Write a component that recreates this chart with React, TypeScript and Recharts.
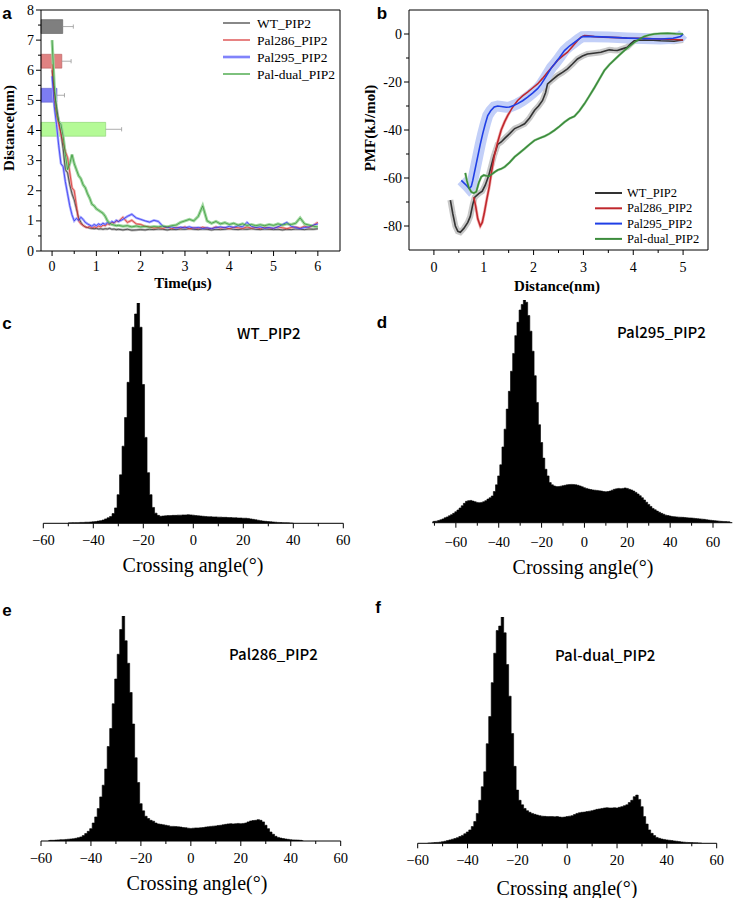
import React from 'react';
import { LineChart, ComposedChart, AreaChart, Area, Line, XAxis, YAxis, ReferenceArea, ReferenceLine } from 'recharts';

const SERIF = '"Liberation Serif", "Times New Roman", serif';
const ARIAL = '"Liberation Sans", Arial, sans-serif';
const CJK = '"Noto Sans CJK SC", "Noto Sans", sans-serif';

// ---------- Panel a: distance vs time ----------
const TIME = [0, 0.05, 0.1, 0.15, 0.2, 0.25, 0.3, 0.35, 0.4, 0.45, 0.5, 0.55, 0.6, 0.65, 0.7, 0.75, 0.8, 0.85, 0.9, 0.95,
  1.0, 1.05, 1.1, 1.15, 1.2, 1.25, 1.3, 1.35, 1.4, 1.45, 1.5,
  1.6, 1.7, 1.8, 1.9, 2.0, 2.1, 2.2, 2.3, 2.4, 2.5, 2.6, 2.7, 2.8, 2.9, 3.0, 3.1, 3.2, 3.3, 3.4, 3.5, 3.6, 3.7, 3.8, 3.9,
  4.0, 4.1, 4.2, 4.3, 4.4, 4.5, 4.6, 4.7, 4.8, 4.9, 5.0, 5.1, 5.2, 5.3, 5.4, 5.5, 5.6, 5.7, 5.8, 5.9, 6.0];
const WT_DIST = [6.0, 5.3, 4.8, 4.3, 3.9, 3.4, 2.7, 2.6, 2.2, 1.9, 1.7, 1.4, 1.1, 0.95, 0.85, 0.8, 0.78, 0.76, 0.75, 0.74,
  0.75, 0.73, 0.74, 0.72, 0.74, 0.73, 0.75, 0.72, 0.73, 0.71, 0.72,
  0.70, 0.72, 0.69, 0.70, 0.71, 0.70, 0.72, 0.71, 0.73, 0.72, 0.70, 0.72, 0.71, 0.73, 0.72, 0.74, 0.72, 0.71, 0.73, 0.72, 0.70, 0.72, 0.71, 0.72,
  0.74, 0.72, 0.71, 0.73, 0.72, 0.74, 0.72, 0.71, 0.73, 0.72, 0.71, 0.72, 0.70, 0.72, 0.71, 0.73, 0.72, 0.71, 0.73, 0.72, 0.74];
const P286_DIST = [6.2, 5.0, 4.5, 4.2, 3.9, 3.6, 3.3, 3.1, 2.6, 2.1, 2.0, 1.5, 1.0, 0.9, 0.85, 0.8, 0.78, 0.82, 0.76, 0.8,
  0.78, 0.83, 0.8, 0.86, 0.84, 0.9, 0.88, 0.95, 0.92, 1.0, 0.98,
  1.12, 0.95, 1.02, 0.9, 0.88, 0.82, 0.80, 0.76, 0.78, 0.75, 0.8, 0.74, 0.78, 0.76, 0.8, 0.74, 0.77, 0.75, 0.79, 0.76, 0.74, 0.8, 0.76, 0.78,
  0.74, 0.79, 0.77, 0.75, 0.8, 0.76, 0.78, 0.74, 0.79, 0.76, 0.75, 0.8, 0.77, 0.74, 0.78, 0.8, 0.76, 0.82, 0.78, 0.85, 0.95];
const P295_DIST = [5.8, 4.8, 4.2, 3.5, 2.9, 2.8, 2.3, 1.9, 1.5, 1.2, 1.0, 1.08, 1.02, 1.12, 1.05, 0.95, 0.9, 0.86, 0.82, 0.88,
  0.84, 0.9, 0.86, 0.92, 0.88, 0.95, 0.9, 0.98, 0.94, 1.02, 0.98,
  1.05, 1.15, 1.22, 1.1, 1.05, 1.0, 0.96, 1.02, 0.98, 0.82, 0.78, 0.8, 0.76, 0.79, 0.77, 0.8, 0.76, 0.78, 0.75, 0.77, 0.74, 0.78, 0.8, 0.77,
  0.82, 0.78, 0.84, 0.8, 0.95, 0.82, 0.78, 0.8, 0.76, 0.78, 0.75, 0.8, 0.88, 0.95, 0.82, 0.78, 0.74, 0.78, 0.8, 0.86, 0.9];
const PDUAL_DIST = [7.0, 5.5, 4.6, 4.3, 4.2, 3.8, 3.2, 2.7, 2.9, 3.2, 2.9, 2.7, 2.5, 2.4, 2.2, 2.1, 1.9, 1.75, 1.55, 1.5,
  1.4, 1.35, 1.3, 1.25, 1.15, 1.0, 0.92, 0.88, 0.86, 0.84, 0.85,
  0.82, 0.84, 0.8, 0.83, 0.8, 0.82, 0.79, 0.81, 0.8, 0.83, 0.8, 0.84, 0.86, 0.95, 1.0, 1.05, 1.0, 1.15, 1.5, 1.0, 0.92, 0.98, 0.9, 0.94,
  0.88, 0.92, 0.86, 0.9, 0.85, 0.88, 0.84, 0.87, 0.84, 0.88, 0.85, 0.9, 0.86, 0.9, 0.88, 0.92, 1.1, 0.9, 0.86, 0.82, 0.8];
const SERIES_NAMES = ['WT_PIP2', 'Pal286_PIP2', 'Pal295_PIP2', 'Pal-dual_PIP2'];
const BIND_Y = [7.45, 6.3, 5.17, 4.04];
const BIND_TIME = [0.24, 0.22, 0.11, 1.21];
const BIND_ERR = [0.24, 0.21, 0.17, 0.36];
const A_MAJOR_X = [0, 1, 2, 3, 4, 5, 6];
const A_MINOR_X = [0.5, 1.5, 2.5, 3.5, 4.5, 5.5];
const A_MAJOR_Y = [0, 1, 2, 3, 4, 5, 6, 7, 8];
const A_MINOR_Y = [0.5, 1.5, 2.5, 3.5, 4.5, 5.5, 6.5, 7.5];

// ---------- Panel b: PMF ----------
const WT_PMF: [number, number][] = [[0.33, -69.2], [0.38, -75], [0.43, -80], [0.48, -82.2], [0.53, -82.6], [0.6, -81], [0.68, -78.5], [0.73, -76], [0.78, -71], [0.82, -68], [0.9, -66.5], [0.97, -65.5], [1.03, -63], [1.1, -59], [1.15, -55], [1.2, -51], [1.28, -46], [1.35, -45], [1.42, -43.5], [1.52, -41.5], [1.62, -39.4], [1.72, -38.5], [1.82, -37.4], [1.92, -35], [2.02, -31.8], [2.1, -30], [2.18, -27.7], [2.24, -24.5], [2.28, -20.8], [2.38, -19], [2.48, -17.3], [2.58, -16], [2.68, -14.5], [2.78, -12.5], [2.88, -10.4], [2.98, -9.2], [3.08, -8.3], [3.2, -8.0], [3.35, -7.6], [3.45, -7.0], [3.52, -6.6], [3.6, -6.8], [3.68, -6.9], [3.78, -6.2], [3.88, -5.5], [3.95, -4.0], [4.02, -2.8], [4.12, -2.6], [4.22, -2.5], [4.4, -2.6], [4.55, -2.8], [4.7, -2.9], [4.82, -3.0], [4.92, -2.7], [5.0, -2.5]];
const P286_PMF: [number, number][] = [[0.8, -68], [0.84, -72], [0.88, -77], [0.93, -80], [0.97, -78.5], [1.01, -74.7], [1.06, -69], [1.11, -63.7], [1.16, -57], [1.21, -51], [1.28, -45], [1.35, -40], [1.42, -36.5], [1.48, -34], [1.58, -30.5], [1.68, -27.7], [1.78, -25.8], [1.88, -24.2], [1.98, -22.5], [2.08, -20.8], [2.18, -18.5], [2.28, -15.9], [2.38, -13.5], [2.48, -11], [2.58, -9.2], [2.68, -7.6], [2.78, -5.2], [2.88, -2.8], [2.95, -1.3], [3.02, -0.7], [3.1, -0.8], [3.22, -1.1], [3.4, -1.3], [3.55, -1.4], [3.7, -1.5], [3.88, -1.7], [4.05, -1.8], [4.22, -1.8], [4.4, -2.0], [4.55, -2.1], [4.7, -2.2], [4.85, -2.3], [5.0, -2.5]];
const P295_PMF: [number, number][] = [[0.55, -61], [0.6, -62], [0.65, -63], [0.71, -64.4], [0.75, -63.5], [0.78, -61], [0.83, -56], [0.88, -51], [0.93, -46], [0.98, -41.5], [1.03, -37.5], [1.08, -34], [1.14, -32], [1.21, -30.4], [1.28, -30], [1.35, -30.2], [1.45, -30.5], [1.52, -30.4], [1.6, -29.8], [1.68, -29], [1.78, -27.8], [1.88, -26.3], [1.98, -24.6], [2.08, -22.8], [2.15, -21], [2.22, -18.7], [2.3, -16], [2.36, -14], [2.42, -12.5], [2.52, -9.8], [2.62, -6.9], [2.72, -5.0], [2.82, -3.5], [2.9, -2.2], [2.98, -1.1], [3.1, -1.0], [3.22, -1.1], [3.5, -1.3], [3.88, -1.7], [4.2, -1.9], [4.55, -2.1], [4.8, -1.8], [4.95, -1.1], [5.0, 0]];
const PDUAL_PMF: [number, number][] = [[0.63, -57.9], [0.66, -61], [0.7, -64], [0.75, -65.8], [0.8, -66.3], [0.85, -65.7], [0.9, -62], [0.95, -59.5], [1.0, -58.8], [1.05, -59.1], [1.1, -59.3], [1.15, -58.6], [1.22, -57.5], [1.28, -56.7], [1.35, -56.2], [1.42, -55.4], [1.52, -53.5], [1.62, -51.2], [1.72, -49.5], [1.82, -47.8], [1.92, -46], [2.02, -44.3], [2.12, -43.4], [2.22, -42.6], [2.32, -41.5], [2.42, -40.1], [2.52, -38.5], [2.62, -36.7], [2.72, -35.2], [2.82, -34.3], [2.92, -32], [3.02, -29.1], [3.12, -25.8], [3.22, -22.4], [3.32, -18.8], [3.42, -15.2], [3.52, -12.8], [3.62, -10.8], [3.72, -8.8], [3.82, -6.9], [3.92, -5.2], [4.02, -3.5], [4.12, -2.2], [4.22, -1.0], [4.32, -0.4], [4.42, 0], [4.55, 0.2], [4.69, 0.3], [4.85, 0.1], [5.0, 0]];
const B_MAJOR_X = [0, 1, 2, 3, 4, 5];
const B_MINOR_X = [0.5, 1.5, 2.5, 3.5, 4.5];
const B_MAJOR_Y = [-80, -60, -40, -20, 0];
const B_MINOR_Y = [-70, -50, -30, -10];

// ---------- Panels c-f: crossing-angle histograms (1° bins, % of peak) ----------
const WT_START = -50;
const WT_HIST = [0.2, 0.2, 0.3, 0.3, 0.3, 0.4, 0.4, 0.5, 0.5, 0.6, 0.7, 0.8, 1.0, 1.2, 1.5, 2.0, 2.5, 3.1, 4.4, 7.0,
  13, 22, 35, 48, 64, 78, 89, 95, 100, 89, 63, 39, 23, 13, 7.2, 4.6, 3.6, 3.2, 3.3, 3.4,
  3.5, 3.5, 3.6, 3.6, 3.7, 3.7, 3.8, 3.8, 3.9, 3.8, 3.7, 3.5, 3.4, 3.3, 3.2, 3.1, 3.0, 3.0, 2.9, 2.9,
  2.8, 2.8, 2.7, 2.7, 2.6, 2.6, 2.5, 2.5, 2.4, 2.4, 2.3, 2.3, 2.2, 2.0, 1.8, 1.6, 1.4, 1.2, 1.0, 0.9,
  0.8, 0.7, 0.6, 0.5, 0.4, 0.35, 0.3, 0.25, 0.2, 0.15, 0.1];
const P295_START = -71;
const P295_HIST = [0.4, 0.6, 0.7, 1.0, 1.3, 1.7, 2.2, 2.6, 3.1, 3.6, 4.2, 4.9, 5.7, 6.6, 7.6, 8.7, 9.6, 9.9, 10.0, 9.7,
  9.4, 9.1, 9.0, 9.1, 9.4, 9.9, 10.6, 11.2, 12.0, 14.0, 17.0, 21, 26, 34, 42, 51, 59, 68, 76, 84,
  90, 95.5, 98, 100, 99, 93, 86, 77, 66, 54, 44, 36, 29, 24, 21, 18, 17, 16.5, 16.2, 16.2,
  16.4, 16.6, 16.8, 17.0, 17.1, 17.2, 17.1, 17.0, 16.8, 16.5, 16.1, 15.7, 15.4, 15.1, 14.9, 14.7, 14.6, 14.5, 14.3, 14.2,
  14.0, 13.9, 14.0, 14.2, 14.6, 15.0, 15.2, 15.4, 15.3, 15.4, 15.6, 15.4, 15.0, 14.7, 14.2, 13.6, 12.9, 12.1, 11.2, 10.2,
  9.2, 8.2, 7.3, 6.4, 5.8, 5.2, 4.7, 4.2, 3.8, 3.4, 3.2, 3.0, 2.8, 2.7, 2.6, 2.5, 2.45, 2.4, 2.3, 2.2,
  2.15, 2.1, 2.0, 1.9, 1.8, 1.7, 1.6, 1.5, 1.35, 1.2, 1.1, 1.0, 0.9, 0.8, 0.7, 0.6, 0.55, 0.5, 0.45, 0.4];
const P286_START = -57;
const P286_HIST = [0.2, 0.3, 0.3, 0.4, 0.5, 0.6, 0.6, 0.7, 0.8, 0.9, 1.0, 1.2, 1.5, 1.8, 2.4, 3.3, 4.3, 5.5, 8, 10.7,
  14.4, 19.6, 24.8, 32, 42, 50, 61, 72, 83, 94, 100, 89, 79, 66, 52, 37, 26, 16.6, 13.4, 11,
  10, 9.2, 8.8, 8.0, 7.6, 7.4, 7.2, 7.0, 6.8, 6.5, 6.5, 6.4, 6.3, 6.2, 6.0, 5.9, 5.7, 5.6, 5.7, 5.8,
  5.8, 5.9, 6.0, 6.2, 6.3, 6.5, 6.6, 6.7, 6.9, 7.0, 7.2, 7.4, 7.6, 7.7, 7.6, 7.7, 7.8, 7.7, 7.8, 8.0,
  8.5, 8.9, 9.1, 9.2, 9.5, 9.2, 8.5, 7.0, 5.5, 4.0, 3.0, 2.1, 1.6, 1.3, 1.1, 0.9, 0.75, 0.6, 0.5, 0.45,
  0.4, 0.3, 0.15];
const PDUAL_START = -56;
const PDUAL_HIST = [0.1, 0.15, 0.2, 0.3, 0.4, 0.5, 0.7, 0.9, 1.2, 1.5, 1.8, 2.1, 2.5, 3.0, 3.5, 4.2, 5.0, 5.9, 7.4, 9.6,
  13.2, 19, 25, 31.6, 44, 56, 71, 84, 94, 96, 100, 93, 79, 65, 48.5, 34, 23.5, 19, 17, 15.4,
  14.4, 13.7, 13.2, 12.8, 12.5, 12.2, 12.0, 11.9, 11.8, 11.8, 11.8, 11.7, 11.8, 11.6, 11.5, 11.6, 11.8, 12.0, 12.2, 12.7,
  13.2, 13.5, 13.7, 13.8, 14.0, 14.2, 14.4, 14.7, 15.0, 15.2, 15.4, 15.6, 15.7, 15.6, 15.6, 15.7, 15.6, 15.9, 16.2, 16.6,
  17.0, 18.0, 19.0, 20.6, 21.3, 19.4, 16.2, 11.8, 8.5, 5.9, 4.4, 3.4, 2.6, 2.2, 1.9, 1.7, 1.5, 1.35, 1.2, 1.05,
  0.9, 0.75, 0.6, 0.5, 0.4, 0.35, 0.3, 0.25, 0.2, 0.15, 0.1];
const H_MAJOR = [-60, -40, -20, 0, 20, 40, 60];
const H_MINOR = [-70, -50, -30, -10, 10, 30, 50];

// ---------- colours ----------
const A_LINE = ['#2b2b2b', '#d42a2a', '#2626f0', '#2f8f2f'];
const A_BAND = ['#b0b0b0', '#f0a8a8', '#a8acff', '#9fd89f'];
const BAR_FILL = ['#7f7f7f', '#e08282', '#7d7df2', '#b4fa96'];
const BAR_STROKE = ['#5a5a5a', '#b85a5a', '#5a5ad0', '#88d070'];
const B_LINE = ['#333333', '#c0282d', '#1f3fe6', '#3c8c3c'];
const B_BAND = ['#c8c8c8', '#f2b4b4', '#c2cff8', '#a8d4a8'];
const B_BAND_W = [6, 3, 11, 2.5];

// ---------- tick renderers ----------
function bottomTick(majors: number[], major: number, minor: number, dy: number, fontSize: number, fmt: (v: number) => string) {
  return (props: any) => {
    const { x, y, payload } = props;
    const v = payload.value;
    const isMajor = majors.indexOf(v) >= 0;
    return (
      <g>
        <line x1={x} x2={x} y1={y} y2={y + (isMajor ? major : minor)} stroke="#000" strokeWidth={1} />
        {isMajor && (
          <text x={x} y={y + dy} textAnchor="middle" dominantBaseline="central" fontSize={fontSize} fontFamily={SERIF} fill="#000">
            {fmt(v)}
          </text>
        )}
      </g>
    );
  };
}
function leftTick(majors: number[], major: number, minor: number, gap: number, fontSize: number) {
  return (props: any) => {
    const { x, y, payload } = props;
    const v = payload.value;
    const isMajor = majors.indexOf(v) >= 0;
    return (
      <g>
        <line x1={x - (isMajor ? major : minor)} x2={x} y1={y} y2={y} stroke="#000" strokeWidth={1} />
        {isMajor && (
          <text x={x - gap} y={y} textAnchor="end" dominantBaseline="central" fontSize={fontSize} fontFamily={SERIF} fill="#000">
            {String(v)}
          </text>
        )}
      </g>
    );
  };
}
const uMinus = (v: number) => (v < 0 ? '\u2212' + Math.abs(v) : String(v));

// ---------- legends (drawn as overlays so they do not shrink the plots) ----------
function LegendA() {
  return (
    <svg width={130} height={76} style={{ position: 'absolute', left: 223, top: 14 }}>
      {SERIES_NAMES.map((n, i) => (
        <g key={n}>
          <line x1={0} x2={27} y1={9 + i * 17} y2={9 + i * 17} stroke={A_BAND[i]} strokeWidth={i === 2 ? 3 : 2} />
          <line x1={0} x2={27} y1={9 + i * 17} y2={9 + i * 17} stroke={A_LINE[i]} strokeWidth={0.6} />
          <text x={34} y={9 + i * 17} dominantBaseline="central" fontSize={13.5} fontFamily={SERIF} fill="#000">{n}</text>
        </g>
      ))}
    </svg>
  );
}
function LegendB() {
  return (
    <svg width={120} height={66} style={{ position: 'absolute', left: 595, top: 185 }}>
      {SERIES_NAMES.map((n, i) => (
        <g key={n}>
          <line x1={0} x2={27} y1={8 + i * 15.3} y2={8 + i * 15.3} stroke={B_LINE[i]} strokeWidth={2} />
          <text x={32} y={8 + i * 15.3} dominantBaseline="central" fontSize={12.5} fontFamily={SERIF} fill="#000">{n}</text>
        </g>
      ))}
    </svg>
  );
}

// ---------- histogram panel ----------
type HistProps = {
  left: number; top: number; width: number; height: number;
  margin: { top: number; right: number; left: number; bottom: number };
  axisH: number; domain: [number, number]; start: number; counts: number[]; labelDy: number;
};
function Hist(p: HistProps) {
  const data = p.counts.map((c, i) => ({ a: p.start + i, v: c }));
  const ticks = [...H_MAJOR, ...H_MINOR].filter((t) => t >= p.domain[0] && t <= p.domain[1]).sort((a, b) => a - b);
  return (
    <div style={{ position: 'absolute', left: p.left, top: p.top }}>
      <AreaChart width={p.width} height={p.height} data={data} margin={p.margin}>
        <XAxis dataKey="a" type="number" domain={p.domain} allowDataOverflow ticks={ticks} interval={0} height={p.axisH}
          tickSize={0} tickMargin={0} tickLine={false} axisLine={{ stroke: '#000', strokeWidth: 1 }}
          tick={bottomTick(H_MAJOR, 5, 3, p.labelDy, 14.5, uMinus)} />
        <YAxis hide domain={[0, 100]} allowDataOverflow />
        <Area type="step" dataKey="v" fill="#000" fillOpacity={1} stroke="#000" strokeWidth={0.6} isAnimationActive={false} />
      </AreaChart>
    </div>
  );
}

const txt = (x: number, y: number, s: string, style: React.CSSProperties, anchor: 'c' | 'l' = 'c', rot = false) => (
  <div key={s + x + y} style={{
    position: 'absolute', left: x, top: y, whiteSpace: 'nowrap', lineHeight: 1,
    transform: (anchor === 'c' ? 'translate(-50%,-50%)' : 'translate(0,-50%)') + (rot ? ' rotate(-90deg)' : ''),
    ...style,
  }}>{s}</div>
);

export default function App() {
  const distData = TIME.map((t, i) => ({ t, wt: WT_DIST[i], p286: P286_DIST[i], p295: P295_DIST[i], pdual: PDUAL_DIST[i] }));
  const distKeys = ['wt', 'p286', 'p295', 'pdual'];
  const pmf = [WT_PMF, P286_PMF, P295_PMF, PDUAL_PMF].map((s) => s.map(([x, y]) => ({ x, y })));

  const boldSerif: React.CSSProperties = { fontFamily: SERIF, fontWeight: 700, fontSize: 15 };
  const letter: React.CSSProperties = { fontFamily: ARIAL, fontWeight: 700, fontSize: 17 };
  const title: React.CSSProperties = { fontFamily: CJK, fontWeight: 500, fontSize: 15 };
  const xTitle: React.CSSProperties = { fontFamily: SERIF, fontSize: 20 };

  return (
    <div style={{ position: 'absolute', left: 0, top: 0, width: 733, height: 898, background: '#fff', overflow: 'hidden' }}>
      {/* Panel a */}
      <div style={{ position: 'absolute', left: 0, top: 0 }}>
        <LineChart width={360} height={295} data={distData} margin={{ top: 10, right: 20, bottom: 0, left: 0 }}>
          <XAxis dataKey="t" type="number" domain={[-0.25, 6.5]} allowDataOverflow ticks={[...A_MAJOR_X, ...A_MINOR_X].sort((a, b) => a - b)}
            interval={0} height={44} tickSize={0} tickMargin={0} tickLine={false} axisLine={{ stroke: '#000' }}
            tick={bottomTick(A_MAJOR_X, 5, 3, 15, 14, (v) => String(v))} />
          <YAxis type="number" domain={[0, 8]} allowDataOverflow ticks={[...A_MAJOR_Y, ...A_MINOR_Y].sort((a, b) => a - b)}
            interval={0} width={41} tickSize={0} tickMargin={0} tickLine={false} axisLine={{ stroke: '#000' }}
            tick={leftTick(A_MAJOR_Y, 5, 3, 7, 14)} />
          <ReferenceLine y={8} stroke="#000" strokeWidth={1} />
          <ReferenceLine x={6.5} stroke="#000" strokeWidth={1} />
          {BIND_Y.map((y, i) => (
            <ReferenceArea key={'ba' + i} x1={-0.25} x2={BIND_TIME[i]} y1={y - 0.23} y2={y + 0.23}
              fill={BAR_FILL[i]} fillOpacity={1} stroke={BAR_STROKE[i]} strokeWidth={0.6} />
          ))}
          {BIND_Y.map((y, i) => (
            <ReferenceLine key={'be' + i} segment={[{ x: BIND_TIME[i], y }, { x: BIND_TIME[i] + BIND_ERR[i], y }]} stroke="#999" strokeWidth={0.8} />
          ))}
          {BIND_Y.map((y, i) => (
            <ReferenceLine key={'bc' + i} segment={[{ x: BIND_TIME[i] + BIND_ERR[i], y: y - 0.07 }, { x: BIND_TIME[i] + BIND_ERR[i], y: y + 0.07 }]} stroke="#999" strokeWidth={0.8} />
          ))}
          {distKeys.map((k, i) => (
            <Line key={k + 'band'} dataKey={k} stroke={A_BAND[i]} strokeWidth={i === 3 ? 3 : 2.5} dot={false} isAnimationActive={false} legendType="none" />
          ))}
          {distKeys.map((k, i) => (
            <Line key={k} dataKey={k} name={SERIES_NAMES[i]} stroke={A_LINE[i]} strokeWidth={0.7} dot={false} isAnimationActive={false} />
          ))}
        </LineChart>
      </div>
      <LegendA />

      {/* Panel b */}
      <div style={{ position: 'absolute', left: 360, top: 0 }}>
        <ComposedChart width={373} height={300} margin={{ top: 10, right: 25, bottom: 0, left: 0 }}>
          <XAxis dataKey="x" type="number" domain={[-0.5, 5.5]} allowDataOverflow ticks={[...B_MAJOR_X, ...B_MINOR_X].sort((a, b) => a - b)}
            interval={0} height={50} tickSize={0} tickMargin={0} tickLine={false} axisLine={{ stroke: '#000' }}
            tick={bottomTick(B_MAJOR_X, 5, 3, 17, 14, (v) => String(v))} />
          <YAxis type="number" domain={[-90, 10]} allowDataOverflow ticks={[...B_MAJOR_Y, ...B_MINOR_Y].sort((a, b) => a - b)}
            interval={0} width={49} tickSize={0} tickMargin={0} tickLine={false} axisLine={{ stroke: '#000' }}
            tick={leftTick(B_MAJOR_Y, 5, 3, 7, 14)} />
          <ReferenceLine y={10} stroke="#000" strokeWidth={1} />
          <ReferenceLine x={5.5} stroke="#000" strokeWidth={1} />
          {pmf.map((d, i) => (
            <Line key={'pb' + i} data={d} dataKey="y" stroke={B_BAND[i]} strokeWidth={B_BAND_W[i]} dot={false} isAnimationActive={false} legendType="none" />
          ))}
          {pmf.map((d, i) => (
            <Line key={'pl' + i} data={d} dataKey="y" name={SERIES_NAMES[i]} stroke={B_LINE[i]} strokeWidth={1.6} dot={false} isAnimationActive={false} />
          ))}
        </ComposedChart>
      </div>
      <LegendB />

      {/* Histograms */}
      <Hist left={0} top={295} width={360} height={300} margin={{ top: 8, right: 16.7, left: 43.3, bottom: 0 }}
        axisH={71.7} domain={[-60, 60]} start={WT_START} counts={WT_HIST} labelDy={17} />
      <Hist left={370} top={295} width={363} height={300} margin={{ top: 5, right: 0.7, left: 62.3, bottom: 0 }}
        axisH={72.3} domain={[-71, 69]} start={P295_START} counts={P295_HIST} labelDy={19} />
      <Hist left={0} top={600} width={360} height={298} margin={{ top: 16, right: 19.3, left: 41, bottom: 0 }}
        axisH={57} domain={[-60, 60]} start={P286_START} counts={P286_HIST} labelDy={17} />
      <Hist left={370} top={600} width={363} height={298} margin={{ top: 17, right: 16.3, left: 47.7, bottom: 0 }}
        axisH={54.7} domain={[-60, 60]} start={PDUAL_START} counts={PDUAL_HIST} labelDy={17} />

      {/* Texts */}
      {txt(7, 13, 'a', letter)}
      {txt(382, 13, 'b', letter)}
      {txt(7, 323, 'c', letter)}
      {txt(382, 322, 'd', letter)}
      {txt(7, 610, 'e', letter)}
      {txt(378, 607, 'f', letter)}
      {txt(9, 128, 'Distance(nm)', boldSerif, 'c', true)}
      {txt(183, 283, 'Time(\u03bcs)', boldSerif)}
      {txt(370, 128, 'PMF(kJ/mol)', boldSerif, 'c', true)}
      {txt(557, 286, 'Distance(nm)', boldSerif)}
      {txt(237, 332, 'WT_PIP2', title, 'l')}
      {txt(617, 331, 'Pal295_PIP2', title, 'l')}
      {txt(229, 653, 'Pal286_PIP2', title, 'l')}
      {txt(555, 654, 'Pal-dual_PIP2', title, 'l')}
      {txt(193, 565, 'Crossing angle(\u00b0)', xTitle)}
      {txt(583, 567, 'Crossing angle(\u00b0)', xTitle)}
      {txt(197, 883, 'Crossing angle(\u00b0)', xTitle)}
      {txt(567, 888, 'Crossing angle(\u00b0)', xTitle)}
    </div>
  );
}
